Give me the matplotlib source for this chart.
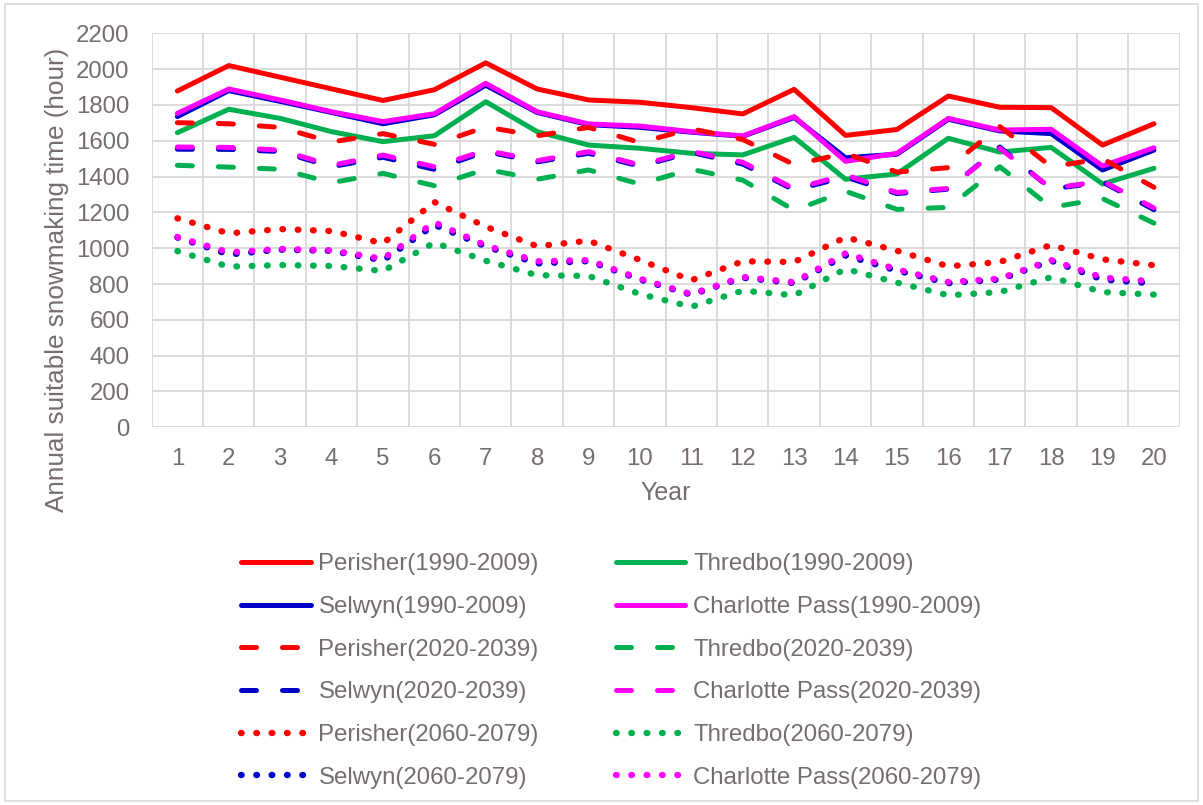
import matplotlib
matplotlib.use('Agg')
import matplotlib.pyplot as plt
from matplotlib.patches import Rectangle

# data
years = list(range(1, 21))

perisher_1990 = [1878, 2020, 1955, 1890, 1825, 1885, 2035, 1889, 1828, 1815,
                 1785, 1750, 1887, 1630, 1663, 1850, 1787, 1785, 1576, 1695]
thredbo_1990 = [1645, 1776, 1725, 1651, 1595, 1628, 1818, 1651, 1576, 1558,
                1530, 1521, 1619, 1385, 1415, 1614, 1537, 1563, 1359, 1446]
selwyn_1990 = [1735, 1880, 1820, 1758, 1695, 1745, 1910, 1758, 1690, 1675,
               1648, 1625, 1730, 1505, 1525, 1720, 1655, 1640, 1437, 1548]
charlotte_1990 = [1753, 1889, 1828, 1762, 1707, 1751, 1921, 1762, 1694, 1682,
                  1651, 1627, 1735, 1485, 1530, 1725, 1660, 1664, 1459, 1561]

perisher_2020 = [1701, 1695, 1675, 1593, 1640, 1580, 1677, 1628, 1675, 1590,
                 1667, 1607, 1467, 1530, 1425, 1450, 1680, 1455, 1500, 1340]
thredbo_2020 = [1463, 1453, 1441, 1366, 1418, 1349, 1441, 1385, 1437, 1358,
                1441, 1380, 1212, 1318, 1217, 1228, 1455, 1228, 1277, 1140]
selwyn_2020 = [1553, 1552, 1540, 1455, 1508, 1440, 1540, 1482, 1530, 1458,
               1535, 1470, 1325, 1398, 1305, 1330, 1565, 1330, 1370, 1215]
charlotte_2020 = [1565, 1563, 1548, 1463, 1520, 1455, 1547, 1489, 1539, 1465,
                  1541, 1480, 1332, 1410, 1311, 1334, 1558, 1334, 1375, 1225]

perisher_2060 = [1167, 1083, 1107, 1096, 1027, 1258, 1120, 1011, 1042, 934,
                 821, 927, 923, 1061, 986, 899, 923, 1018, 938, 905]
thredbo_2060 = [984, 897, 906, 901, 873, 1031, 930, 849, 845, 744,
                673, 763, 737, 884, 808, 737, 755, 838, 755, 741]
selwyn_2060 = [1060, 965, 992, 985, 932, 1130, 1010, 915, 928, 825,
               740, 835, 805, 960, 875, 805, 825, 930, 825, 803]
charlotte_2060 = [1063, 977, 996, 988, 941, 1145, 1016, 927, 934, 830,
                  744, 840, 810, 972, 882, 811, 830, 934, 836, 815]

text_col = '#766d6d'
grid_col = '#d9d9d9'

plt.rcParams['font.family'] = ['Liberation Sans', 'DejaVu Sans']

fig = plt.figure(figsize=(12.03, 8.05), dpi=100)
fig.patches.append(Rectangle((0.004, 0.005), 0.992, 0.99, transform=fig.transFigure,
                             fill=False, edgecolor=grid_col, lw=1.2))

ax = fig.add_axes([0.1261, 0.4692, 0.8545, 0.4894])

lw = 3.6
styles = {
    'solid': dict(linestyle='-', solid_capstyle='round'),
    'dash': dict(linestyle=(0, (3.0, 5.2)), dash_capstyle='round'),
    'dot': dict(linestyle=(0, (0.1, 2.3)), dash_capstyle='round'),
}

series = [
    ('Perisher(1990-2009)', perisher_1990, '#ff0000', 'solid'),
    ('Thredbo(1990-2009)', thredbo_1990, '#00b050', 'solid'),
    ('Selwyn(1990-2009)', selwyn_1990, '#0000c8', 'solid'),
    ('Charlotte Pass(1990-2009)', charlotte_1990, '#ff00ff', 'solid'),
    ('Perisher(2020-2039)', perisher_2020, '#ff0000', 'dash'),
    ('Thredbo(2020-2039)', thredbo_2020, '#00b050', 'dash'),
    ('Selwyn(2020-2039)', selwyn_2020, '#0000c8', 'dash'),
    ('Charlotte Pass(2020-2039)', charlotte_2020, '#ff00ff', 'dash'),
    ('Perisher(2060-2079)', perisher_2060, '#ff0000', 'dot'),
    ('Thredbo(2060-2079)', thredbo_2060, '#00b050', 'dot'),
    ('Selwyn(2060-2079)', selwyn_2060, '#0000c8', 'dot'),
    ('Charlotte Pass(2060-2079)', charlotte_2060, '#ff00ff', 'dot'),
]

handles = []
for label, vals, col, st in series:
    w = 4.6 if st == 'dot' else lw
    h, = ax.plot(years, vals, color=col, lw=w, label=label, **styles[st])
    handles.append(h)

ax.set_xlim(0.5, 20.5)
ax.set_ylim(0, 2200)
ax.set_yticks(range(0, 2201, 200))
ax.set_xticks(years)
ax.set_xticks([x + 0.5 for x in range(0, 21)], minor=True)
ax.grid(True, which='minor', axis='x', color=grid_col, lw=1.3)
ax.grid(True, which='major', axis='y', color=grid_col, lw=1.3)
ax.set_axisbelow(True)
for s in ax.spines.values():
    s.set_visible(False)
ax.tick_params(axis='both', which='both', length=0, labelsize=17.3, labelcolor=text_col)
ax.tick_params(axis='x', pad=15)
ax.tick_params(axis='y', pad=16)

fig.text(0.0474, 0.652, 'Annual suitable snowmaking time (hour)', rotation=90,
         ha='center', va='center', fontsize=18.8, color=text_col)
fig.text(0.553, 0.3876, 'Year', ha='center', va='center', fontsize=18, color=text_col)

# legend fills column by column, so order left column first
order = [0, 2, 4, 6, 8, 10, 1, 3, 5, 7, 9, 11]
fig.legend([handles[i] for i in order], [series[i][0] for i in order],
           loc='center', bbox_to_anchor=(0.508, 0.1665), ncol=2, frameon=False,
           fontsize=17.3, labelcolor=text_col, handlelength=2.9, handletextpad=0.33,
           columnspacing=3.2, labelspacing=0.86, borderpad=0)

fig.savefig('out.png', dpi=100)
